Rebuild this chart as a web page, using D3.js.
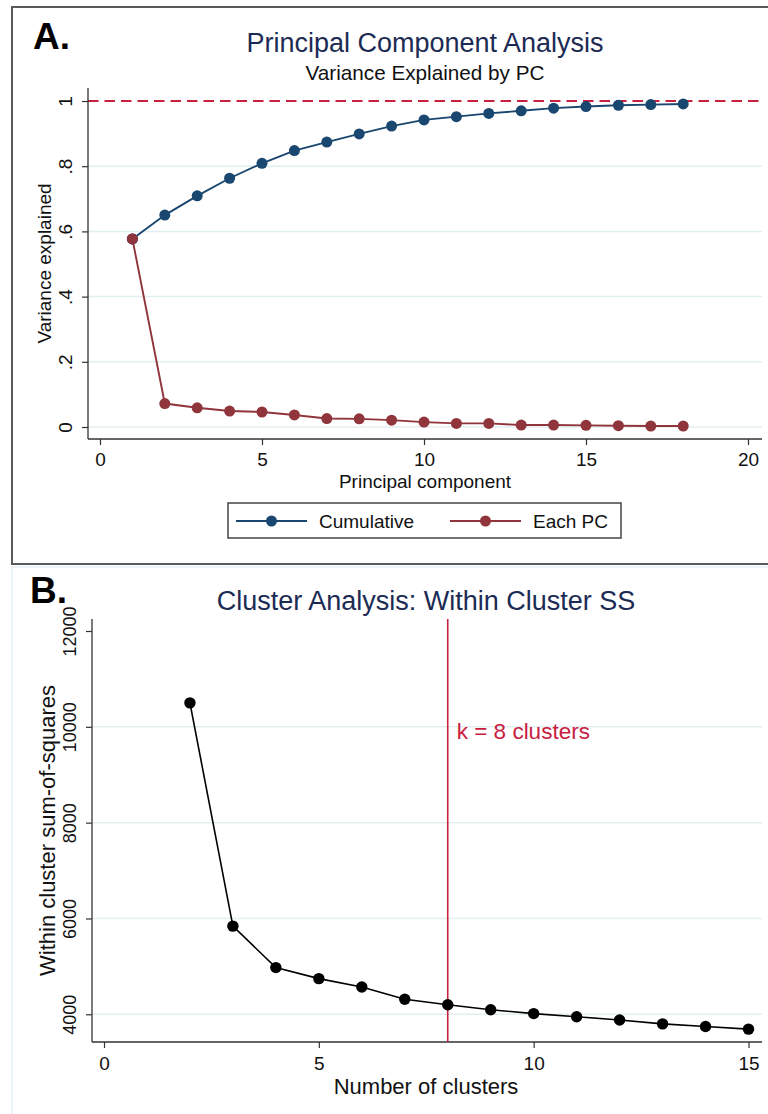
<!DOCTYPE html>
<html>
<head>
<meta charset="utf-8">
<script src="https://cdn.jsdelivr.net/npm/d3@7"></script>
<style>
    body { margin: 0; background: #fff; }
    svg { display: block; font-family: "Liberation Sans", Arial, sans-serif; }
</style>
</head>
<body>
<div class="chart"></div>
<script>
// data - panel A
var components = [1, 2, 3, 4, 5, 6, 7, 8, 9, 10, 11, 12, 13, 14, 15, 16, 17, 18];
var cumulative = [0.577, 0.650, 0.709, 0.763, 0.809, 0.848, 0.874, 0.899, 0.923, 0.942, 0.952, 0.962, 0.970, 0.978, 0.983, 0.987, 0.989, 0.991];
var eachPC = [0.577, 0.072, 0.059, 0.049, 0.046, 0.037, 0.026, 0.025, 0.021, 0.015, 0.011, 0.011, 0.006, 0.006, 0.005, 0.004, 0.003, 0.003];
var pcTicksX = [0, 5, 10, 15, 20];
var pcTicksY = [0, 0.2, 0.4, 0.6, 0.8, 1];
var pcTickLabelsY = ["0", ".2", ".4", ".6", ".8", "1"];

// data - panel B
var clusters = [2, 3, 4, 5, 6, 7, 8, 9, 10, 11, 12, 13, 14, 15];
var withinSS = [10500, 5840, 4975, 4745, 4570, 4315, 4200, 4095, 4015, 3950, 3880, 3800, 3745, 3690];
var clTicksX = [0, 5, 10, 15];
var clTicksY = [4000, 6000, 8000, 10000, 12000];
var chosenK = 8;

var navy = "#1a476f", maroon = "#90353b", crimson = "#c8203f", titleCol = "#1c2b54";
var grid = "#e3eef1", axisCol = "#333";

var svg = d3.select(".chart").append("svg")
            .attr("width", 768)
            .attr("height", 1114);

// frames
svg.append("rect").attr("x", 12).attr("y", 7).attr("width", 780).attr("height", 557)
   .attr("fill", "none").attr("stroke", "#5a5a5a").attr("stroke-width", 2);
svg.append("rect").attr("x", 12).attr("y", 567).attr("width", 780).attr("height", 600)
   .attr("fill", "none").attr("stroke", "#e6eff3").attr("stroke-width", 1.5);

// ---------- panel A ----------
var a = {left: 88, right: 762, top: 88, bottom: 439};
var xA = d3.scaleLinear().domain([0, 20]).range([100, 748]);
var yA = d3.scaleLinear().domain([0, 1]).range([427, 101]);

svg.append("text").attr("x", 33).attr("y", 49).text("A.")
   .style("font-size", "37px").style("font-weight", "bold").style("fill", "#000");
svg.append("text").attr("x", 425).attr("y", 52).attr("text-anchor", "middle")
   .text("Principal Component Analysis").style("font-size", "27px").style("fill", titleCol);
svg.append("text").attr("x", 425).attr("y", 80).attr("text-anchor", "middle")
   .text("Variance Explained by PC").style("font-size", "20.7px").style("fill", "#111");

// grid
svg.append("g").selectAll("line").data(pcTicksY.slice(0, 5)).enter().append("line")
   .attr("x1", a.left).attr("x2", a.right)
   .attr("y1", function(d) { return yA(d); }).attr("y2", function(d) { return yA(d); })
   .attr("stroke", grid).attr("stroke-width", 1.5);

// reference line at 1
svg.append("line").attr("x1", a.left).attr("x2", a.right)
   .attr("y1", yA(1)).attr("y2", yA(1))
   .attr("stroke", crimson).attr("stroke-width", 2).attr("stroke-dasharray", "10.5,6");

// axes
var yAxisA = d3.axisLeft(yA).tickValues(pcTicksY).tickSize(6)
               .tickFormat(function(d, i) { return pcTickLabelsY[i]; });
var gyA = svg.append("g").attr("transform", "translate(" + a.left + ",0)").call(yAxisA);
var xAxisA = d3.axisBottom(xA).tickValues(pcTicksX).tickSize(6);
var gxA = svg.append("g").attr("transform", "translate(0," + a.bottom + ")").call(xAxisA);

svg.append("line").attr("x1", a.left).attr("x2", a.left).attr("y1", a.top).attr("y2", a.bottom)
   .attr("stroke", axisCol).attr("stroke-width", 1.3);
svg.append("line").attr("x1", a.left).attr("x2", a.right).attr("y1", a.bottom).attr("y2", a.bottom)
   .attr("stroke", axisCol).attr("stroke-width", 1.3);

// labels
svg.append("text").attr("x", 425).attr("y", 488).attr("text-anchor", "middle")
   .text("Principal component").style("font-size", "19px").style("fill", "#111");
svg.append("text").attr("transform", "translate(51," + ((a.top + a.bottom) / 2) + ") rotate(-90)")
   .attr("text-anchor", "middle").text("Variance explained")
   .style("font-size", "19px").style("fill", "#111");

// lines + markers
var lineA = function(vals) {
    return d3.line().x(function(d, i) { return xA(components[i]); })
                    .y(function(d) { return yA(d); })(vals);
};
[[eachPC, maroon], [cumulative, navy]].forEach(function(s) {
    svg.append("path").attr("d", lineA(s[0])).attr("fill", "none")
       .attr("stroke", s[1]).attr("stroke-width", 1.9);
    svg.append("g").selectAll("circle").data(s[0]).enter().append("circle")
       .attr("cx", function(d, i) { return xA(components[i]); })
       .attr("cy", function(d) { return yA(d); })
       .attr("r", 5.5).attr("fill", s[1]);
});
// PC1 red marker sits on top
svg.append("circle").attr("cx", xA(components[0])).attr("cy", yA(eachPC[0]))
   .attr("r", 5.5).attr("fill", maroon);

// legend
var legend = svg.append("g");
legend.append("rect").attr("x", 228).attr("y", 503).attr("width", 393).attr("height", 35)
      .attr("fill", "#fff").attr("stroke", "#444").attr("stroke-width", 1.5);
[["Cumulative", navy, 236], ["Each PC", maroon, 450]].forEach(function(l) {
    legend.append("line").attr("x1", l[2]).attr("x2", l[2] + 71).attr("y1", 521).attr("y2", 521)
          .attr("stroke", l[1]).attr("stroke-width", 1.9);
    legend.append("circle").attr("cx", l[2] + 35.5).attr("cy", 521).attr("r", 5.5).attr("fill", l[1]);
    legend.append("text").attr("x", l[2] + 83).attr("y", 528).text(l[0])
          .style("font-size", "19px").style("fill", "#111");
});

// ---------- panel B ----------
var b = {left: 92, right: 762, top: 619, bottom: 1042};
var xB = d3.scaleLinear().domain([0, 15]).range([104, 748.5]);
var yB = d3.scaleLinear().domain([4000, 12000]).range([1014.3, 631]);

svg.append("text").attr("x", 30).attr("y", 603).text("B.")
   .style("font-size", "37px").style("font-weight", "bold").style("fill", "#000");
svg.append("text").attr("x", 426).attr("y", 610).attr("text-anchor", "middle")
   .text("Cluster Analysis: Within Cluster SS").style("font-size", "27px").style("fill", titleCol);

svg.append("g").selectAll("line").data(clTicksY.slice(0, 4)).enter().append("line")
   .attr("x1", b.left).attr("x2", b.right)
   .attr("y1", function(d) { return yB(d); }).attr("y2", function(d) { return yB(d); })
   .attr("stroke", grid).attr("stroke-width", 1.5);

var yAxisB = d3.axisLeft(yB).tickValues(clTicksY).tickSize(6).tickFormat(d3.format("d"));
var gyB = svg.append("g").attr("transform", "translate(" + b.left + ",0)").call(yAxisB);
var xAxisB = d3.axisBottom(xB).tickValues(clTicksX).tickSize(6);
var gxB = svg.append("g").attr("transform", "translate(0," + b.bottom + ")").call(xAxisB);

svg.append("line").attr("x1", b.left).attr("x2", b.left).attr("y1", b.top).attr("y2", b.bottom)
   .attr("stroke", axisCol).attr("stroke-width", 1.3);
svg.append("line").attr("x1", b.left).attr("x2", b.right).attr("y1", b.bottom).attr("y2", b.bottom)
   .attr("stroke", axisCol).attr("stroke-width", 1.3);

// chosen k
svg.append("line").attr("x1", xB(chosenK)).attr("x2", xB(chosenK)).attr("y1", b.top).attr("y2", b.bottom)
   .attr("stroke", crimson).attr("stroke-width", 1.6);
svg.append("text").attr("x", xB(chosenK) + 9).attr("y", 739).text("k = " + chosenK + " clusters")
   .style("font-size", "22.5px").style("fill", crimson);

svg.append("path")
   .attr("d", d3.line().x(function(d, i) { return xB(clusters[i]); })
                       .y(function(d) { return yB(d); })(withinSS))
   .attr("fill", "none").attr("stroke", "#000").attr("stroke-width", 1.6);
svg.append("g").selectAll("circle").data(withinSS).enter().append("circle")
   .attr("cx", function(d, i) { return xB(clusters[i]); })
   .attr("cy", function(d) { return yB(d); })
   .attr("r", 5.7).attr("fill", "#000");

svg.append("text").attr("x", 426).attr("y", 1094).attr("text-anchor", "middle")
   .text("Number of clusters").style("font-size", "22px").style("fill", "#111");
svg.append("text").attr("transform", "translate(55," + ((b.top + b.bottom) / 2) + ") rotate(-90)")
   .attr("text-anchor", "middle").text("Within cluster sum-of-squares")
   .style("font-size", "22px").style("fill", "#111");

// axis styling (Stata look: rotated y labels)
[gyA, gxA, gyB, gxB].forEach(function(g) {
    g.select(".domain").remove();
    g.selectAll(".tick line").attr("stroke", axisCol).attr("stroke-width", 1.2);
    g.selectAll("text").style("font-family", "inherit").style("fill", "#111");
});
gxA.selectAll("text").attr("y", 14).style("font-size", "19px");
gxB.selectAll("text").attr("y", 15).style("font-size", "19px");
gyA.selectAll("text").attr("x", null).attr("dy", null).attr("text-anchor", "middle")
   .attr("transform", "translate(-16,0) rotate(-90)").style("font-size", "19px");
gyB.selectAll("text").attr("x", null).attr("dy", null).attr("text-anchor", "middle")
   .attr("transform", "translate(-16,0) rotate(-90)").style("font-size", "18px");
</script>
</body>
</html>
